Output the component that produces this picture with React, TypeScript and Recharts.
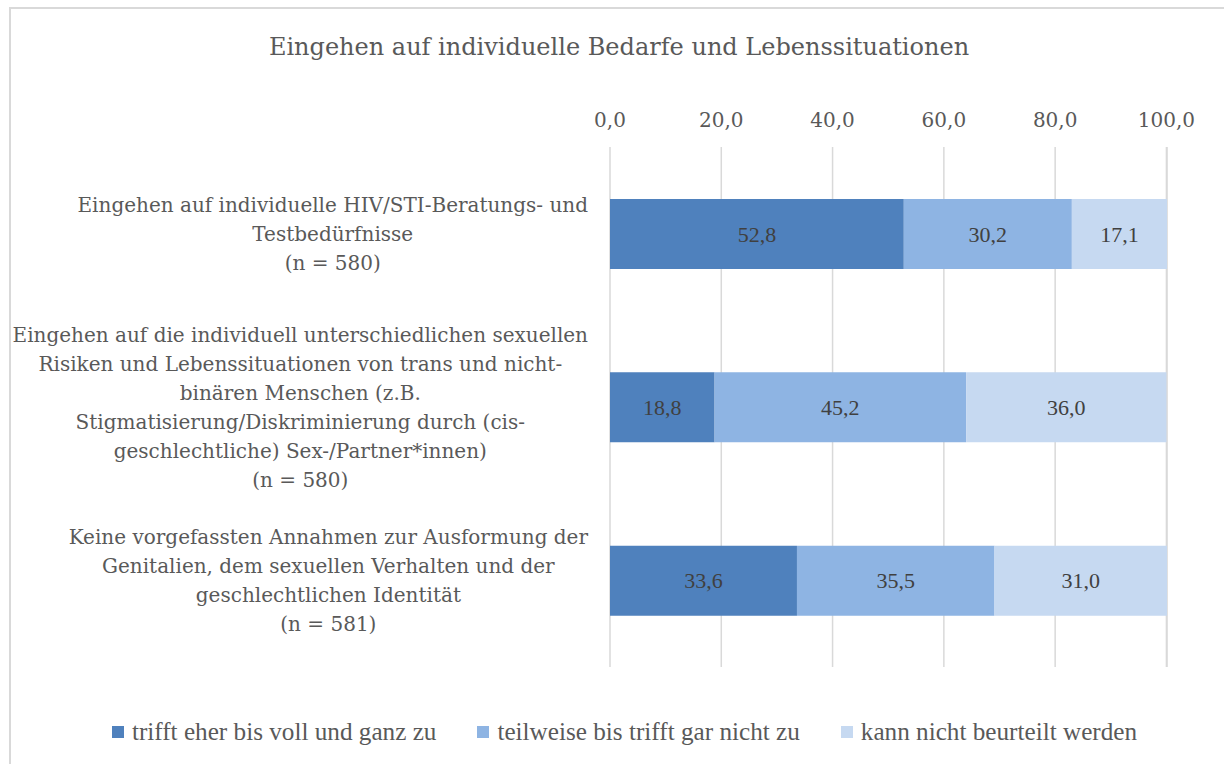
import React from "react";
import { BarChart, Bar, XAxis, YAxis, CartesianGrid, LabelList } from "recharts";

const TITLE = "Eingehen auf individuelle Bedarfe und Lebenssituationen";
const CATEGORIES = [
  "Eingehen auf individuelle HIV/STI-Beratungs- und\nTestbedürfnisse\n(n = 580)",
  "Eingehen auf die individuell unterschiedlichen sexuellen\nRisiken und Lebenssituationen von trans und nicht-\nbinären Menschen (z.B.\nStigmatisierung/Diskriminierung durch (cis-\ngeschlechtliche) Sex-/Partner*innen)\n(n = 580)",
  "Keine vorgefassten Annahmen zur Ausformung der\nGenitalien, dem sexuellen Verhalten und der\ngeschlechtlichen Identität\n(n = 581)",
];
const SERIES_NAMES = [
  "trifft eher bis voll und ganz zu",
  "teilweise bis trifft gar nicht zu",
  "kann nicht beurteilt werden",
];
const SERIES_KEYS = ["a", "b", "c"];
const SERIES_COLORS = ["#4F81BD", "#8EB4E3", "#C6D9F1"];
const VALUES_A = [52.8, 18.8, 33.6];
const VALUES_B = [30.2, 45.2, 35.5];
const VALUES_C = [17.1, 36.0, 31.0];
const X_TICKS = [0, 20, 40, 60, 80, 100];

const data = CATEGORIES.map((name, i) => ({
  name,
  a: VALUES_A[i],
  b: VALUES_B[i],
  c: VALUES_C[i],
}));

const SERIF = "'Liberation Serif', 'Times New Roman', serif";
const WIDE = "'DejaVu Serif', serif";
const TEXT_COLOR = "#595959";
const fmt = (v: number) => Number(v).toFixed(1).replace(".", ",");

let measureCtx: CanvasRenderingContext2D | null = null;
function measure(text: string, font: string) {
  if (!measureCtx) {
    const c = document.createElement("canvas");
    measureCtx = c.getContext("2d");
  }
  if (!measureCtx) return text.length * 10;
  measureCtx.font = font;
  return measureCtx.measureText(text).width;
}

const CAT_FONT_SIZE = 20;
const LINE_H = 29;

const CategoryTick = (props: any) => {
  const { y, payload } = props;
  const lines: string[] = String(payload.value).split("\n");
  const font = `${CAT_FONT_SIZE}px 'DejaVu Serif'`;
  const maxW = Math.max(...lines.map((l) => measure(l, font)));
  const right = 588;
  const cx = right - maxW / 2;
  const startY = y - ((lines.length - 1) * LINE_H) / 2;
  return (
    <g>
      {lines.map((l, i) => (
        <text
          key={i}
          x={cx}
          y={startY + i * LINE_H}
          textAnchor="middle"
          dominantBaseline="central"
          fill={TEXT_COLOR}
          fontFamily={WIDE}
          fontSize={CAT_FONT_SIZE}
        >
          {l}
        </text>
      ))}
    </g>
  );
};

const ValueTick = (props: any) => {
  const { x, payload } = props;
  return (
    <text
      x={x}
      y={120}
      textAnchor="middle"
      dominantBaseline="central"
      fill={TEXT_COLOR}
      fontFamily={WIDE}
      fontSize={20}
    >
      {fmt(payload.value)}
    </text>
  );
};

export default function App() {
  return (
    <div
      style={{
        position: "fixed",
        left: 0,
        top: 0,
        width: 1224,
        height: 764,
        overflow: "hidden",
        background: "#fff",
      }}
    >
      <div
        style={{
          position: "absolute",
          left: 9,
          top: 7,
          width: 1300,
          height: 900,
          border: "2px solid #d9d9d9",
          boxSizing: "border-box",
        }}
      />
      <div
        style={{
          position: "absolute",
          left: 0,
          top: 30,
          width: 1238,
          textAlign: "center",
          fontFamily: WIDE,
          fontSize: 24,
          color: TEXT_COLOR,
          lineHeight: "34px",
        }}
      >
        {TITLE}
      </div>
      <div style={{ position: "absolute", left: 0, top: 0 }}>
        <BarChart
          width={1224}
          height={764}
          layout="vertical"
          data={data}
          margin={{ top: 107, right: 57, bottom: 97, left: 0 }}
        >
          <CartesianGrid horizontal={false} stroke="#d9d9d9" strokeWidth={1.5} />
          <XAxis
            type="number"
            orientation="top"
            domain={[0, 100]}
            ticks={X_TICKS}
            axisLine={false}
            tickLine={false}
            height={40}
            tick={<ValueTick />}
            interval={0}
          />
          <YAxis
            type="category"
            dataKey="name"
            width={610}
            axisLine={false}
            tickLine={false}
            tick={<CategoryTick />}
            interval={0}
          />
          {SERIES_KEYS.map((k, i) => (
            <Bar
              key={k}
              dataKey={k}
              name={SERIES_NAMES[i]}
              stackId="s"
              fill={SERIES_COLORS[i]}
              barSize={70}
              isAnimationActive={false}
            >
              <LabelList
                dataKey={k}
                position="center"
                formatter={(v: any) => fmt(v)}
                fill="#404040"
                fontFamily={SERIF}
                fontSize={22}
              />
            </Bar>
          ))}
        </BarChart>
      </div>
      <div
        style={{
          position: "absolute",
          left: 0,
          top: 718,
          width: 1249,
          display: "flex",
          justifyContent: "center",
          fontFamily: SERIF,
          fontSize: 25.2,
          color: TEXT_COLOR,
          lineHeight: "28px",
        }}
      >
        {SERIES_NAMES.map((n, i) => (
          <div
            key={n}
            style={{ display: "flex", alignItems: "center", marginRight: i < 2 ? 41 : 0 }}
          >
            <span
              style={{
                display: "inline-block",
                width: 12,
                height: 12,
                background: SERIES_COLORS[i],
                marginRight: 8,
              }}
            />
            <span>{n}</span>
          </div>
        ))}
      </div>
    </div>
  );
}
